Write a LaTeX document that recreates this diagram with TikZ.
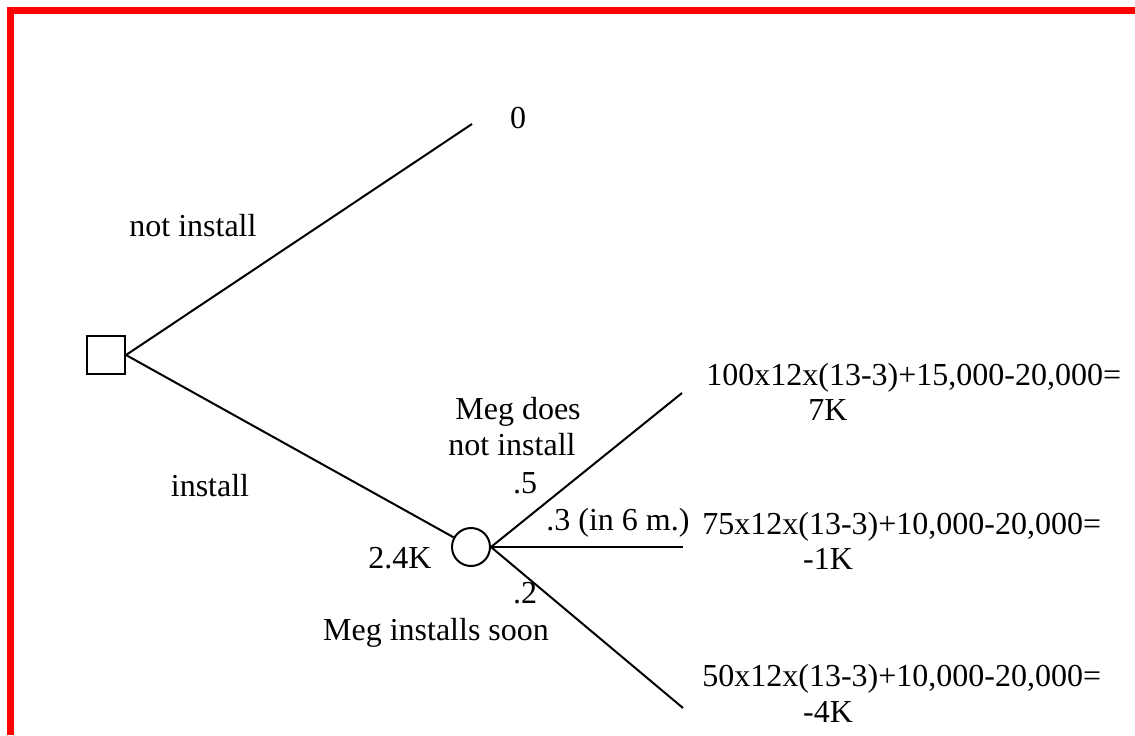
\documentclass[tikz,border=0pt]{standalone}
\usepackage{fontspec}
\setmainfont{Liberation Serif}
\begin{document}
\begin{tikzpicture}[x=0.5pt,y=-0.5pt,
  lbl/.style={anchor=base,inner sep=0pt,font=\fontsize{16}{19}\selectfont},
  lblw/.style={anchor=base west,inner sep=0pt,font=\fontsize{16}{19}\selectfont},
  branch/.style={line width=1pt,black},
  decbox/.style={draw,line width=1pt,minimum size=19pt,inner sep=0pt},
  chancenode/.style={draw,circle,line width=1pt,minimum size=19pt,inner sep=0pt},
  frame/.style={red,line width=3.5pt}]
\useasboundingbox (0,0) rectangle (1135,735);
\draw[frame] (10.5,735) -- (10.5,10.5) -- (1135,10.5);
% nodes
\node[decbox] (dec) at (106,355) {};
\node[chancenode] (chance) at (471,547) {};
\coordinate (topend) at (472,124);
\coordinate (e1) at (682,393);
\coordinate (e2) at (683,547);
\coordinate (e3) at (683,708);
% connectors
\draw[branch] (dec.east) -- (topend);
\draw[branch] (dec.east) -- (chance);
\draw[branch] (chance.east) -- (e1);
\draw[branch] (chance.east) -- (e2);
\draw[branch] (chance.east) -- (e3);
% labels
\node[lbl] (zero) at (518,128) {0};
\node[lblw] (notinst) at (129,236) {not install};
\node[lbl] (inst) at (210,496) {install};
\node[lbl] (ev) at (400,568) {2.4K};
\node[lbl] (megd1) at (518,419) {Meg does};
\node[lbl] (megd2) at (512,455) {not install};
\node[lbl] (p5) at (525,493) {.5};
\node[lblw] (p3) at (546,530) {.3 (in 6 m.)};
\node[lbl] (p2) at (525,603) {.2};
\node[lbl] (megs) at (436,640) {Meg installs soon};
\node[lblw] (f1) at (706,385) {100x12x(13-3)+15,000-20,000=};
\node[lbl] (r1) at (828,420) {7K};
\node[lblw] (f2) at (702,534) {75x12x(13-3)+10,000-20,000=};
\node[lbl] (r2) at (828,569) {-1K};
\node[lblw] (f3) at (702,686) {50x12x(13-3)+10,000-20,000=};
\node[lbl] (r3) at (828,722) {-4K};
\end{tikzpicture}
\end{document}
